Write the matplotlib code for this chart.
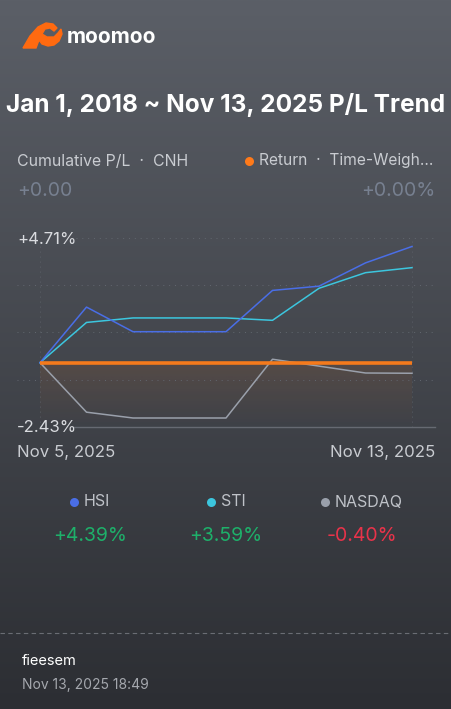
import numpy as np
import matplotlib.pyplot as plt
from matplotlib.patches import Polygon

plt.rcParams['font.family'] = ['Inter', 'DejaVu Sans']

# data
dates = ["Nov 5", "Nov 6", "Nov 7", "Nov 8", "Nov 9", "Nov 10", "Nov 11", "Nov 12", "Nov 13"]
ret = [0, 0, 0, 0, 0, 0, 0, 0, 0]
hsi = [0, 2.10, 1.17, 1.17, 1.17, 2.73, 2.89, 3.77, 4.39]
sti = [0, 1.52, 1.69, 1.69, 1.69, 1.60, 2.81, 3.40, 3.59]
nasdaq = [0, -1.87, -2.09, -2.09, -2.09, 0.13, -0.13, -0.39, -0.40]
bench_names = ["HSI", "STI", "NASDAQ"]
bench_vals = ["+4.39%", "+3.59%", "-0.40%"]
ymin, ymax = -2.43, 4.71

W, H = 452, 709
fig = plt.figure(figsize=(W / 100, H / 100), dpi=100)

def fy(p):
    return 1 - p / H

def fx(p):
    return p / W

# background gradient
bg = fig.add_axes([0, 0, 1, 1])
top = np.array([91, 95, 103]) / 255
bot = np.array([44, 46, 51]) / 255
t = np.linspace(0, 1, 256)[:, None]
grad = top * (1 - t) + bot * t
bg.imshow(grad[:, None, :], aspect='auto', extent=[0, 1, 0, 1])
bg.set_xlim(0, 1)
bg.set_ylim(0, 1)
bg.axis('off')

# logo (rough bull shape)
orange = '#ff6a10'
pts1 = [(23, 48), (30, 36), (38, 27), (46, 23), (53, 24), (57, 28), (54, 31), (50, 28), (45, 29),
        (42, 34), (47, 37), (54, 37), (58, 33), (61, 29), (62, 34), (59, 41), (54, 45), (48, 46),
        (42, 44), (39, 40), (36, 48)]
fig.patches.append(Polygon([[fx(a), fy(b)] for a, b in pts1], closed=True, color=orange,
                           transform=fig.transFigure))
fig.text(fx(67), fy(37), "moomoo", color='white', fontsize=15, fontweight='bold', va='center', ha='left')

fig.text(fx(226), fy(105), "Jan 1, 2018 ~ Nov 13, 2025 P/L Trend", color='white',
         fontsize=17.6, fontweight='bold', ha='center', va='center')

lbl = '#c9ccd1'
fig.text(fx(17), fy(161), "Cumulative P/L  ·  CNH", color=lbl, fontsize=11.4, va='center')
bg.plot(fx(249), fy(161), 'o', ms=6.5, color='#ff7a1a', mec='none')
fig.text(fx(259), fy(161), "Return  ·  Time-Weigh...", color=lbl, fontsize=11.2, va='center')
fig.text(fx(17), fy(191), "+0.00", color='#778090', fontsize=14, va='center')
fig.text(fx(435), fy(191), "+0.00%", color='#778090', fontsize=14, va='center', ha='right')

# chart
ax = fig.add_axes([fx(17), fy(427), fx(435) - fx(17), fy(238) - fy(427)])
ax.patch.set_alpha(0)
x = np.arange(len(dates))
for s in ax.spines.values():
    s.set_visible(False)
ax.set_xticks([])
ax.set_yticks([])

grid_c = '#62676f'
for yv in np.linspace(ymin, ymax, 5)[1:]:
    ax.axhline(yv, color=grid_c, lw=0.7, ls=(0, (1, 5)), xmin=0.14 if yv == ymax else 0)
for xv in [x[0], x[-1]]:
    ax.axvline(xv, color=grid_c, lw=0.6, ls=(0, (1, 5)))
ax.plot([-23 / 46.5 + 1.2, 8 + 23 / 46.5], [ymin, ymin], color='#666a72', lw=1, clip_on=False)

# orange fill fading downward
fade = np.zeros((64, 1, 4))
fade[:, 0, :3] = np.array([255, 122, 26]) / 255
fade[:, 0, 3] = np.linspace(0.10, 0.0, 64)
ax.imshow(fade, aspect='auto', extent=[x[0], x[-1], ymin, max(ret)], zorder=1)
ax.set_xlim(-23 / 46.5, 8 + 23 / 46.5)
ax.set_ylim(ymin, ymax)

ax.plot(x, nasdaq, color='#9aa0ab', lw=1.1, zorder=2)
ax.plot(x, sti, color='#3cc6de', lw=1.1, zorder=2)
ax.plot(x, hsi, color='#4a6ee6', lw=1.1, zorder=2)
ax.plot(x, ret, color='#f57a1c', lw=2.6, solid_capstyle='butt', zorder=3)

tick_c = '#d9dbdf'
fig.text(fx(17), fy(240), "+4.71%", color=tick_c, fontsize=12, va='center')
fig.text(fx(17), fy(428), "-2.43%", color=tick_c, fontsize=12, va='center')
fig.text(fx(17), fy(452), "Nov 5, 2025", color=lbl, fontsize=12.1, va='center')
fig.text(fx(435), fy(452), "Nov 13, 2025", color=lbl, fontsize=12.1, va='center', ha='right')

# benchmark legend
dot_cols = ['#4a6ee6', '#3cc6de', '#9aa0ab']
val_cols = ['#1eb06a', '#1eb06a', '#e8334a']
name_x = [84, 221, 335]
val_x = [90, 226, 362]
for i in range(3):
    bg.plot(fx(name_x[i] - 10), fy(502), 'o', ms=6.5, color=dot_cols[i], mec='none')
    fig.text(fx(name_x[i]), fy(502), bench_names[i], color='#bfc2c8', fontsize=11.5, va='center')
    fig.text(fx(val_x[i]), fy(536), bench_vals[i], color=val_cols[i], fontsize=14, va='center', ha='center')

# footer
bg.axhline(fy(633), color='#6a6d74', lw=0.8, ls=(0, (4, 3)))
fig.text(fx(22), fy(661), "fieesem", color='white', fontsize=10.5, va='center')
fig.text(fx(22), fy(685), "Nov 13, 2025 18:49", color='#a5a8ae', fontsize=10, va='center')

fig.savefig('out.png', dpi=100)
